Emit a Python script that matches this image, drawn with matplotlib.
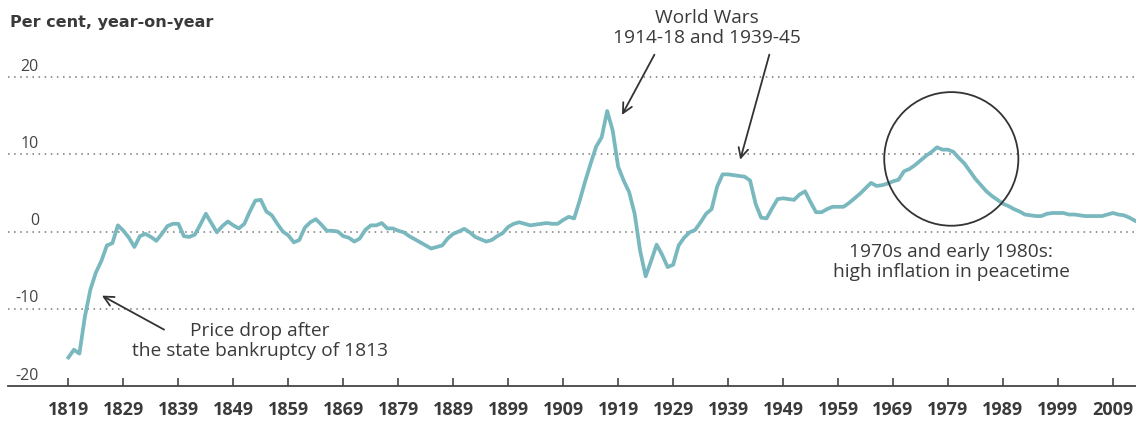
import numpy as np
import matplotlib
matplotlib.use("Agg")
import matplotlib.pyplot as plt
from matplotlib.patches import Ellipse

plt.rcParams['font.family'] = ['Open Sans', 'DejaVu Sans']

# yearly inflation, per cent
years = np.arange(1819, 2014)
inflation = [
    -16.3, -15.3, -15.8, -11.0, -7.5, -5.3, -3.8, -1.8, -1.5, 0.8,   # 1819-1828
    0.1, -0.8, -2.0, -0.6, -0.3, -0.7, -1.2, -0.3, 0.7, 1.0,         # 1829-1838
    1.0, -0.6, -0.7, -0.4, 0.9, 2.3, 1.1, -0.1, 0.7, 1.3,            # 1839-1848
    0.8, 0.4, 1.0, 2.6, 4.0, 4.1, 2.6, 2.1, 1.0, 0.0,                # 1849-1858
    -0.5, -1.4, -1.1, 0.5, 1.2, 1.6, 0.9, 0.1, 0.1, 0.0,             # 1859-1868
    -0.6, -0.8, -1.3, -0.9, 0.2, 0.8, 0.8, 1.1, 0.4, 0.4,            # 1869-1878
    0.1, -0.1, -0.6, -1.0, -1.4, -1.8, -2.2, -2.0, -1.8, -0.9,       # 1879-1888
    -0.3, 0.0, 0.35, -0.1, -0.7, -1.0, -1.3, -1.1, -0.6, -0.2,       # 1889-1898
    0.6, 1.0, 1.2, 1.0, 0.8, 0.9, 1.0, 1.1, 1.0, 1.0,                # 1899-1908
    1.5, 1.9, 1.7, 4.0, 6.5, 8.8, 11.0, 12.2, 15.6, 13.1,            # 1909-1918
    8.4, 6.6, 5.1, 2.3, -2.5, -5.8, -3.8, -1.7, -3.0, -4.6,          # 1919-1928
    -4.3, -1.8, -0.8, -0.1, 0.2, 1.2, 2.3, 2.9, 5.8, 7.4,            # 1929-1938
    7.4, 7.3, 7.2, 7.1, 6.6, 3.6, 1.8, 1.7, 3.0, 4.2,                # 1939-1948
    4.3, 4.2, 4.1, 4.8, 5.2, 3.8, 2.5, 2.5, 2.9, 3.2,                # 1949-1958
    3.2, 3.2, 3.7, 4.3, 4.9, 5.6, 6.3, 5.9, 6.0, 6.2,                # 1959-1968
    6.5, 6.7, 7.8, 8.1, 8.6, 9.2, 9.8, 10.3, 10.9, 10.6,             # 1969-1978
    10.6, 10.3, 9.5, 8.8, 7.8, 6.8, 6.0, 5.2, 4.6, 4.1,              # 1979-1988
    3.6, 3.3, 2.9, 2.6, 2.2, 2.1, 2.0, 2.0, 2.3, 2.4,                # 1989-1998
    2.4, 2.4, 2.2, 2.2, 2.1, 2.0, 2.0, 2.0, 2.0, 2.2,                # 1999-2008
    2.4, 2.2, 2.1, 1.8, 1.4,                                         # 2009-2013
]
xtick_years = list(range(1819, 2010, 10))
ytick_vals = [20, 10, 0, -10, -20]

line_col = '#79b8be'
txt_col = '#3a3a3a'

fig = plt.figure(figsize=(11.36, 4.21), dpi=100)
ax = fig.add_axes([0.007, 0.0831, 0.993, 0.7706])
ax.set_xlim(1808, 2013.2)
ax.set_ylim(-20, 22)

# dotted grid + in-plot y labels
for v in ytick_vals:
    if v != -20:
        ax.axhline(v, color='#777777', lw=1.1, ls=(0, (1, 3)), zorder=1)
    ax.text(0.0275, v + 0.3, str(v), transform=ax.get_yaxis_transform(),
            ha='right', va='bottom', fontsize=11.5, color='#444444')

ax.plot(years, inflation, color=line_col, lw=2.7, zorder=3,
        solid_joinstyle='round', clip_on=False)

for s in ['top', 'right', 'left']:
    ax.spines[s].set_visible(False)
ax.spines['bottom'].set_color('#444444')
ax.spines['bottom'].set_linewidth(1.3)
ax.set_yticks([])
ax.set_xticks(xtick_years)
ax.set_xticklabels([str(y) for y in xtick_years], fontsize=13,
                   fontweight='bold', color=txt_col)
ax.tick_params(axis='x', direction='in', length=6, width=1.2,
               color='#444444', pad=10.5)

fig.text(10 / 1136, 1 - 22 / 421, 'Per cent, year-on-year', fontsize=11.5,
         fontweight='bold', color=txt_col, va='center', ha='left',
         family='DejaVu Sans')

# annotations
arrow = dict(arrowstyle='->,head_length=0.7,head_width=0.35', color='#333333',
             lw=1.3, shrinkA=0, shrinkB=0)
ax.annotate('', xy=(1919.7, 15.1), xytext=(1925.6, 22.9), arrowprops=arrow,
            annotation_clip=False)
ax.annotate('', xy=(1941.2, 9.3), xytext=(1946.5, 22.9), arrowprops=arrow,
            annotation_clip=False)
ax.annotate('', xy=(1825.1, -8.3), xytext=(1836.4, -12.7), arrowprops=arrow,
            annotation_clip=False)

ax.text(1935.1, 26.3, 'World Wars\n1914-18 and 1939-45', ha='center',
        va='center', fontsize=13.8, color=txt_col, linespacing=1.15)
ax.text(1853.8, -14.2, 'Price drop after\nthe state bankruptcy of 1813',
        ha='center', va='center', fontsize=13.8, color=txt_col, linespacing=1.15)
ax.text(1979.6, -4.0, '1970s and early 1980s:\nhigh inflation in peacetime',
        ha='center', va='center', fontsize=13.8, color=txt_col, linespacing=1.15)

ax.add_patch(Ellipse((1979.6, 9.4), 24.4, 17.3, fill=False,
                     edgecolor='#333333', lw=1.3, zorder=4))

fig.savefig('out.png', dpi=100)
